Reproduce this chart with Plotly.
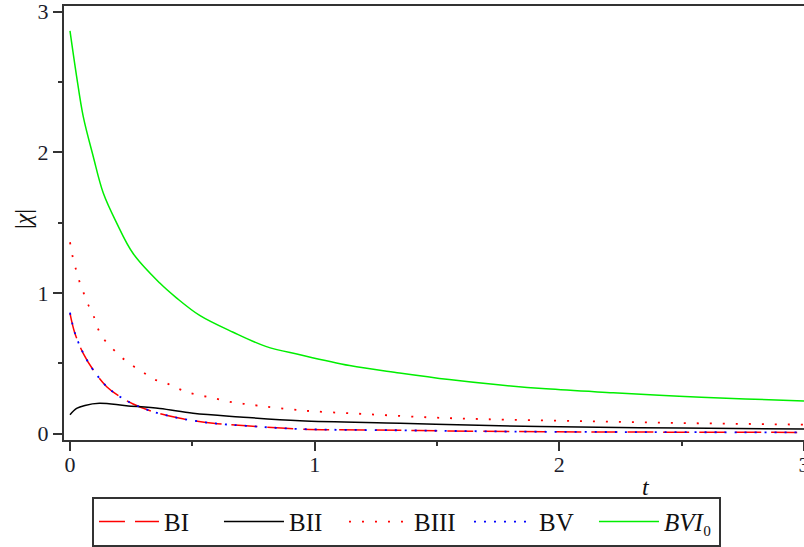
import plotly.graph_objects as go

# ---- data ----
t_BI = [0, 0.02, 0.054, 0.095, 0.15, 0.204, 0.258, 0.34, 0.45, 0.585, 0.72, 0.94, 1.35, 1.8, 2.4, 3.0]
y_BI = [0.855, 0.713, 0.570, 0.452, 0.333, 0.262, 0.21, 0.155, 0.108, 0.073, 0.055, 0.032, 0.023, 0.014, 0.010, 0.008]

t_BII = [0, 0.027, 0.061, 0.12, 0.23, 0.367, 0.503, 0.694, 0.94, 1.35, 1.67, 2.16, 2.5, 3.0]
y_BII = [0.134, 0.179, 0.200, 0.215, 0.198, 0.178, 0.144, 0.118, 0.091, 0.073, 0.058, 0.044, 0.039, 0.032]

t_BIII = [0, 0.01, 0.023, 0.038, 0.054, 0.075, 0.095, 0.111, 0.136, 0.173, 0.211, 0.252, 0.299,
          0.344, 0.395, 0.442, 0.487, 0.544, 0.592, 0.646, 0.694, 0.748, 0.95, 1.21, 1.48, 1.70,
          2.08, 2.49, 3.0]
y_BIII = [1.36, 1.265, 1.175, 1.085, 1.008, 0.914, 0.843, 0.76, 0.677, 0.606, 0.542, 0.487, 0.435,
          0.385, 0.357, 0.319, 0.29, 0.267, 0.25, 0.228, 0.215, 0.203, 0.164, 0.138, 0.114, 0.102,
          0.088, 0.075, 0.063]

t_BV = [0, 0.02, 0.054, 0.095, 0.15, 0.204, 0.258, 0.34, 0.45, 0.585, 0.72, 0.94, 1.35, 1.8, 2.4, 3.0]
y_BV = [0.86, 0.715, 0.572, 0.452, 0.334, 0.262, 0.21, 0.155, 0.108, 0.073, 0.055, 0.032, 0.023, 0.014, 0.010, 0.008]

t_BVI0 = [0, 0.027, 0.054, 0.095, 0.136, 0.19, 0.258, 0.367, 0.435, 0.53, 0.667, 0.80, 0.94,
          1.143, 1.347, 1.55, 1.74, 1.946, 2.22, 2.49, 2.76, 3.0]
y_BVI0 = [2.863, 2.54, 2.255, 1.97, 1.71, 1.50, 1.28, 1.07, 0.965, 0.84, 0.72, 0.62, 0.56,
          0.483, 0.431, 0.384, 0.348, 0.318, 0.290, 0.265, 0.246, 0.232]

x_ticks = [0, 1, 2, 3]
y_ticks = [0, 1, 2, 3]
x_minor = [0.5, 1.5, 2.5]
y_minor = [0.5, 1.5, 2.5]

SERIF = "Liberation Serif"

fig = go.Figure()
fig.add_trace(go.Scatter(x=t_BI, y=y_BI, mode="lines", name="BI",
                         line=dict(color="#ff0000", width=1.5, dash="26px,10px", shape="spline")))
fig.add_trace(go.Scatter(x=t_BII, y=y_BII, mode="lines", name="BII",
                         line=dict(color="#000000", width=1.5, shape="spline")))
fig.add_trace(go.Scatter(x=t_BIII, y=y_BIII, mode="lines", name="BIII",
                         line=dict(color="#ff0000", width=1.8, dash="2px,11px", shape="spline")))
fig.add_trace(go.Scatter(x=t_BV, y=y_BV, mode="lines", name="BV",
                         line=dict(color="#0000ff", width=1.8, dash="2px,8px", shape="spline")))
fig.add_trace(go.Scatter(x=t_BVI0, y=y_BVI0, mode="lines", name="<i>BVI</i>₀",
                         line=dict(color="#00ee00", width=1.5, shape="spline")))

axis_common = dict(
    showgrid=False, zeroline=False, showline=True, linewidth=2, linecolor="#333333",
    ticks="outside", ticklen=9, tickwidth=2, tickcolor="#333333",
    tickfont=dict(family=SERIF, size=22, color="#1c1c2c"),
    ticklabeloverflow="allow", automargin=False,
)

fig.update_layout(
    width=804, height=547,
    margin=dict(l=64, r=0, t=6, b=107, pad=0, autoexpand=False),
    paper_bgcolor="white", plot_bgcolor="white",
    xaxis=dict(range=[-0.0245, 3.0], tickvals=x_ticks, ticktext=[str(v) for v in x_ticks],
               mirror=True, ticklabelstandoff=-5,
               minor=dict(tickvals=x_minor, ticks="outside", ticklen=4, tickwidth=2, tickcolor="#333333"),
               **axis_common),
    yaxis=dict(range=[-0.046, 3.04], tickvals=y_ticks, ticktext=[str(v) for v in y_ticks],
               minor=dict(tickvals=y_minor, ticks="outside", ticklen=4, tickwidth=2, tickcolor="#333333"),
               **axis_common),
    showlegend=True,
    legend=dict(orientation="h", x=0.0378, y=-0.131, xanchor="left", yanchor="top",
                bgcolor="white", bordercolor="#333333", borderwidth=2,
                font=dict(family=SERIF, size=25, color="#111111"),
                itemwidth=60, entrywidth=50, entrywidthmode="pixels"),
    annotations=[
        dict(text="<i>t</i>", x=0.786, y=-0.108, xref="paper", yref="paper",
             xanchor="center", yanchor="middle",
             showarrow=False, font=dict(family=SERIF, size=24, color="#111111")),
        dict(text="|<i>χ</i>|", x=-0.0554, y=0.509, xref="paper", yref="paper",
             xanchor="center", yanchor="middle",
             showarrow=False, textangle=-90, font=dict(family=SERIF, size=24, color="#111111")),
    ],
)

fig.write_html("out.html")
